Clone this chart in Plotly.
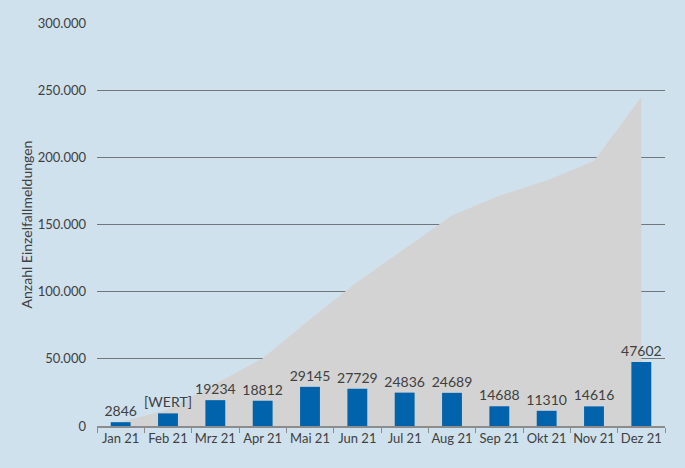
import plotly.graph_objects as go

months = ['Jan 21', 'Feb 21', 'Mrz 21', 'Apr 21', 'Mai 21', 'Jun 21',
          'Jul 21', 'Aug 21', 'Sep 21', 'Okt 21', 'Nov 21', 'Dez 21']
monthly = [2846, 9400, 19234, 18812, 29145, 27729,
           24836, 24689, 14688, 11310, 14616, 47602]
labels = ['2846', '[WERT]', '19234', '18812', '29145', '27729',
          '24836', '24689', '14688', '11310', '14616', '47602']
cumulative = [2846, 12246, 31480, 50292, 79437, 107166,
              132002, 156691, 171379, 182689, 197305, 244907]

bg = '#cfe1ed'
text_color = '#404040'
font_family = 'Lato, Open Sans, sans-serif'

fig = go.Figure()

# Cumulative area (bottom subplot layer)
fig.add_trace(go.Scatter(
    x=months,
    y=cumulative,
    mode='none',
    fill='tozeroy',
    fillcolor='#d3d3d3',
    showlegend=False,
    hoverinfo='skip',
))

# Monthly bars on an overlaying axis so they are drawn above the area
fig.add_trace(go.Bar(
    x=months,
    y=monthly,
    yaxis='y2',
    text=labels,
    textposition='outside',
    constraintext='none',
    textfont=dict(size=14, color=text_color, family=font_family),
    marker=dict(color='#0063ac', line=dict(width=0)),
    cliponaxis=False,
    showlegend=False,
))

fig.update_layout(
    width=685,
    height=468,
    paper_bgcolor=bg,
    plot_bgcolor=bg,
    margin=dict(l=97, r=20, t=23, b=42),
    bargap=0.58,
    separators=',.',
    font=dict(family=font_family, size=13, color=text_color),
    xaxis=dict(
        showgrid=False,
        showline=True,
        linecolor='#8c8c8c',
        linewidth=1.5,
        ticks='outside',
        tickson='boundaries',
        ticklen=5,
        tickcolor='#8c8c8c',
        tickangle=0,
        tickfont=dict(size=13, color=text_color),
    ),
    yaxis=dict(
        range=[0, 300000],
        dtick=50000,
        tickformat=',d',
        showgrid=True,
        gridcolor='#71767b',
        gridwidth=1.2,
        zeroline=False,
        showline=False,
        ticks='',
        ticklabelstandoff=10,
        tickfont=dict(size=13, color=text_color),
        title=dict(text='Anzahl Einzelfallmeldungen', standoff=1,
                   font=dict(size=14, color=text_color)),
    ),
    yaxis2=dict(
        overlaying='y',
        range=[0, 300000],
        visible=False,
        showgrid=False,
    ),
)

fig.write_html('out.html', config={'displayModeBar': False},
               post_script="document.body.style.margin='0';")
